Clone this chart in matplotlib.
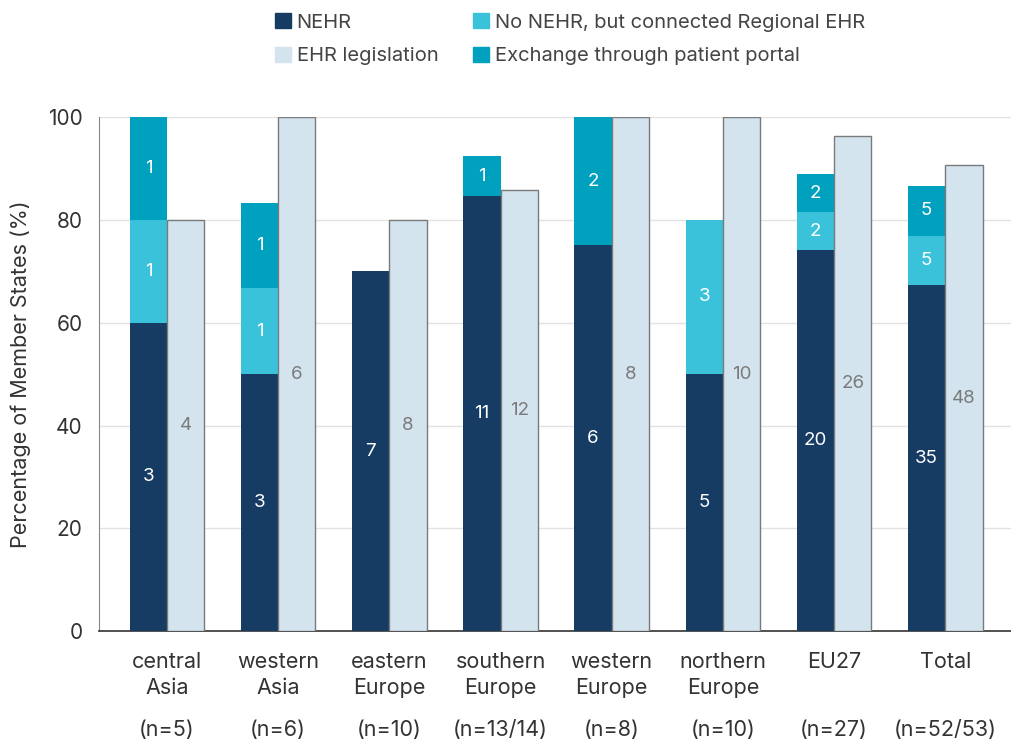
import numpy as np
import matplotlib.pyplot as plt
from matplotlib.patches import Patch

plt.rcParams['font.family'] = ['Inter', 'DejaVu Sans']

regions = ['central\nAsia', 'western\nAsia', 'eastern\nEurope', 'southern\nEurope',
           'western\nEurope', 'northern\nEurope', 'EU27', 'Total']
n_labels = ['(n=5)', '(n=6)', '(n=10)', '(n=13/14)', '(n=8)', '(n=10)', '(n=27)', '(n=52/53)']

# number of member states per category
nehr = np.array([3, 3, 7, 11, 6, 5, 20, 35])
regional = np.array([1, 1, 0, 0, 0, 3, 2, 5])
portal = np.array([1, 1, 0, 1, 2, 0, 2, 5])
legislation = np.array([4, 6, 8, 12, 8, 10, 26, 48])
# denominators: survey responses for systems / for legislation
n_sys = np.array([5, 6, 10, 13, 8, 10, 27, 52])
n_leg = np.array([5, 6, 10, 14, 8, 10, 27, 53])

c_nehr = '#163c64'
c_reg = '#3bc2db'
c_portal = '#00a0bf'
c_leg = '#d3e4ef'

p_nehr = nehr / n_sys * 100
p_reg = regional / n_sys * 100
p_portal = portal / n_sys * 100
p_leg = legislation / n_leg * 100

fig, ax = plt.subplots(figsize=(10.12, 7.4), dpi=100)
fig.subplots_adjust(left=0.098, right=1.0, top=0.842, bottom=0.147)

x = np.arange(len(regions))
w = 0.335
xs = x - w / 2
xl = x + w / 2

ax.bar(xs, p_nehr, w, color=c_nehr, zorder=3)
ax.bar(xs, p_reg, w, bottom=p_nehr, color=c_reg, zorder=3)
ax.bar(xs, p_portal, w, bottom=p_nehr + p_reg, color=c_portal, zorder=3)
ax.bar(xl, p_leg, w, color=c_leg, edgecolor='#7a7a7a', linewidth=1.0, zorder=3)

fs = 13.5
for i in range(len(x)):
    ax.text(xs[i], p_nehr[i] / 2, str(nehr[i]), ha='center', va='center',
            color='white', fontsize=fs, zorder=4)
    if regional[i]:
        ax.text(xs[i], p_nehr[i] + p_reg[i] / 2, str(regional[i]), ha='center',
                va='center', color='white', fontsize=fs, zorder=4)
    if portal[i]:
        ax.text(xs[i], p_nehr[i] + p_reg[i] + p_portal[i] / 2, str(portal[i]),
                ha='center', va='center', color='white', fontsize=fs, zorder=4)
    ax.text(xl[i], p_leg[i] / 2, str(legislation[i]), ha='center', va='center',
            color='#7a7a7a', fontsize=fs, zorder=4)

ax.set_ylim(0, 100)
ax.set_xlim(-0.61, 7.6)
ax.set_yticks([0, 20, 40, 60, 80, 100])
ax.tick_params(axis='y', labelsize=15, length=0, pad=12, colors='#333333')
ax.set_xticks(x)
ax.set_xticklabels(regions, fontsize=15.5, color='#333333', linespacing=1.4)
ax.tick_params(axis='x', length=0, pad=15)
for i, lab in enumerate(n_labels):
    ax.annotate(lab, xy=(x[i], 0), xycoords=('data', 'axes fraction'),
                xytext=(0, -71), textcoords='offset points', ha='center',
                va='center', fontsize=15.5, color='#333333')

ax.set_ylabel('Percentage of Member States (%)', fontsize=15.5, color='#333333', labelpad=12)
ax.yaxis.grid(True, color='#e2e2e2', linewidth=1, zorder=0)
ax.set_axisbelow(True)
for s in ['top', 'right']:
    ax.spines[s].set_visible(False)
ax.spines['left'].set_color('#888888')
ax.spines['bottom'].set_color('#333333')
ax.spines['bottom'].set_linewidth(1.2)

handles = [Patch(color=c_nehr), Patch(color=c_leg), Patch(color=c_reg), Patch(color=c_portal)]
labels = ['NEHR', 'EHR legislation', 'No NEHR, but connected Regional EHR',
          'Exchange through patient portal']
leg = fig.legend(handles, labels, ncol=2, loc='upper center', bbox_to_anchor=(0.563, 1.007),
                 frameon=False, fontsize=14.5, handlelength=0.8, handleheight=0.8,
                 handletextpad=0.3, columnspacing=1.7, labelspacing=0.75)
for t in leg.get_texts():
    t.set_color('#444444')

fig.savefig('out.png', dpi=100)
